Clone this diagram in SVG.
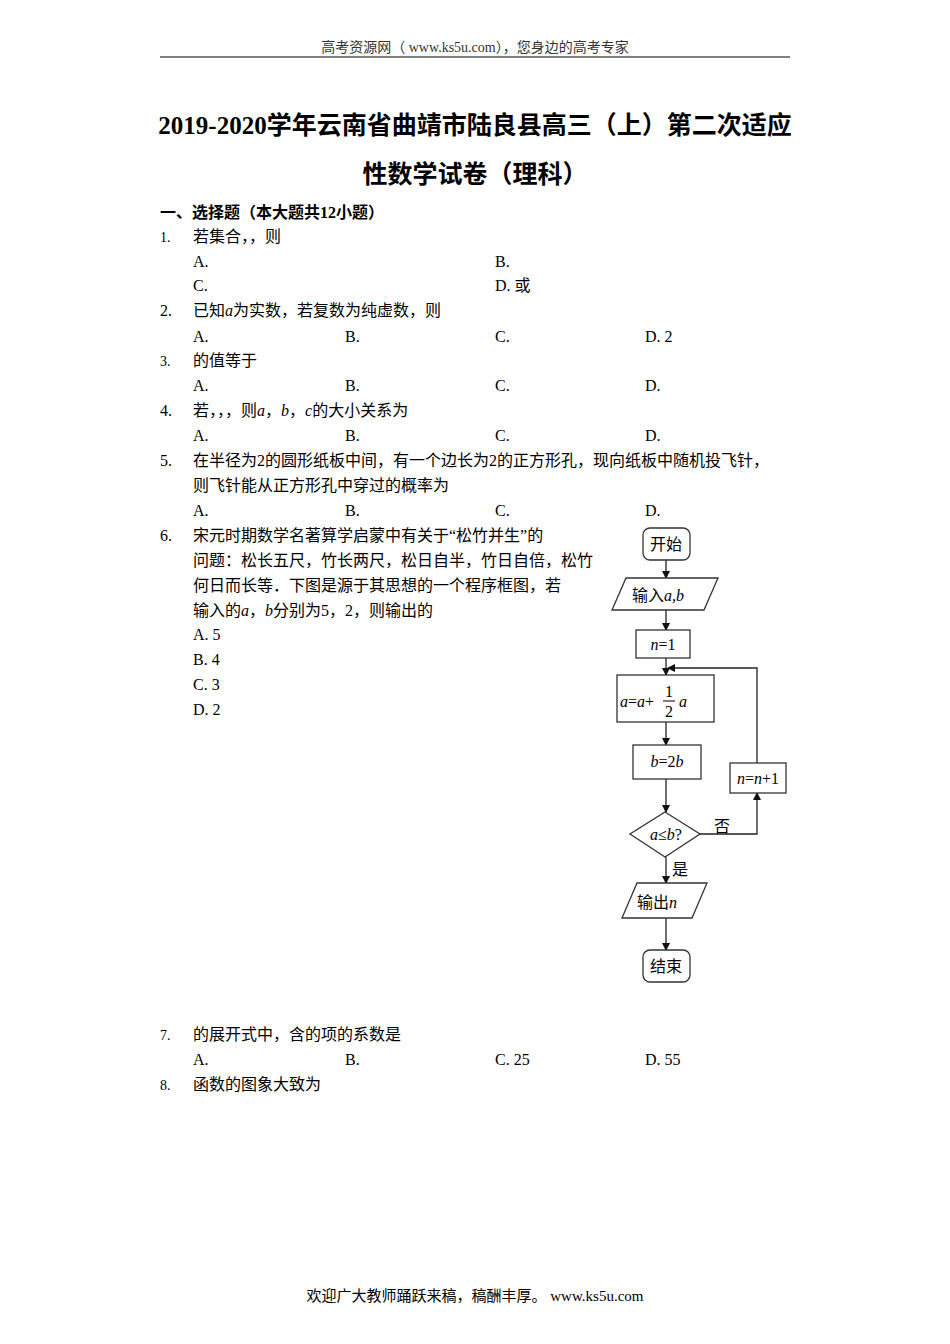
<svg xmlns="http://www.w3.org/2000/svg" width="950" height="1344" viewBox="0 0 950 1344">
<style>
text{font-family:"Liberation Serif","Noto Sans CJK SC",serif;font-size:16px;fill:#000}
.h{font-size:14px;fill:#333}
.t{font-size:25px;font-weight:bold}
.n{font-size:14px}
.fc{font-family:"Noto Sans CJK SC","Liberation Sans",sans-serif;font-size:16px}
.s{fill:#fff;stroke:#333;stroke-width:1.3}
.c{fill:none;stroke:#222;stroke-width:1.3}
</style>
<defs><marker id="a" markerWidth="8" markerHeight="8" refX="7" refY="4" orient="auto" markerUnits="userSpaceOnUse"><path d="M0,0L8,4L0,8z" fill="#111"/></marker></defs>
<rect width="950" height="1344" fill="#fff"/>
<text class="h" x="475" y="52" text-anchor="middle">高考资源网（ www.ks5u.com），您身边的高考专家</text>
<line x1="160" y1="57" x2="790" y2="57" stroke="#000"/>
<text class="t" x="475" y="134" text-anchor="middle">2019-2020学年云南省曲靖市陆良县高三（上）第二次适应</text>
<text class="t" x="475" y="183" text-anchor="middle">性数学试卷（理科）</text>
<text x="160" y="218" font-weight="bold">一、选择题（本大题共12小题）</text>
<text class="n" x="160" y="242">1.</text><text x="193" y="242">若集合，，则</text>
<text x="193" y="267">A.</text><text x="495" y="267">B.</text>
<text x="193" y="291">C.</text><text x="495" y="291">D. 或</text>
<text x="160" y="316">2.</text><text x="193" y="316">已知<tspan font-style="italic">a</tspan>为实数，若复数为纯虚数，则</text>
<text x="193" y="342">A.</text><text x="345" y="342">B.</text><text x="495" y="342">C.</text><text x="645" y="342">D. 2</text>
<text class="n" x="160" y="366">3.</text><text x="193" y="366">的值等于</text>
<text x="193" y="391">A.</text><text x="345" y="391">B.</text><text x="495" y="391">C.</text><text x="645" y="391">D.</text>
<text x="160" y="416">4.</text><text x="193" y="416">若，，，则<tspan font-style="italic">a</tspan>，<tspan font-style="italic">b</tspan>，<tspan font-style="italic">c</tspan>的大小关系为</text>
<text x="193" y="441">A.</text><text x="345" y="441">B.</text><text x="495" y="441">C.</text><text x="645" y="441">D.</text>
<text x="160" y="466">5.</text><text x="193" y="466">在半径为2的圆形纸板中间，有一个边长为2的正方形孔，现向纸板中随机投飞针，</text>
<text x="193" y="491">则飞针能从正方形孔中穿过的概率为</text>
<text x="193" y="516">A.</text><text x="345" y="516">B.</text><text x="495" y="516">C.</text><text x="645" y="516">D.</text>
<text x="160" y="541">6.</text><text x="193" y="541">宋元时期数学名著算学启蒙中有关于“松竹并生”的</text>
<text x="193" y="566">问题：松长五尺，竹长两尺，松日自半，竹日自倍，松竹</text>
<text x="193" y="591">何日而长等．下图是源于其思想的一个程序框图，若</text>
<text x="193" y="616">输入的<tspan font-style="italic">a</tspan>，<tspan font-style="italic">b</tspan>分别为5，2，则输出的</text>
<text x="193" y="640">A. 5</text>
<text x="193" y="665">B. 4</text>
<text x="193" y="690">C. 3</text>
<text x="193" y="715">D. 2</text>
<text class="n" x="160" y="1040">7.</text><text x="193" y="1040">的展开式中，含的项的系数是</text>
<text x="193" y="1065">A.</text><text x="345" y="1065">B.</text><text x="495" y="1065">C. 25</text><text x="645" y="1065">D. 55</text>
<text class="n" x="160" y="1090">8.</text><text x="193" y="1090">函数的图象大致为</text>
<text class="h" x="475" y="1301" text-anchor="middle" style="font-size:15px;fill:#000">欢迎广大教师踊跃来稿，稿酬丰厚。 www.ks5u.com</text>

<g id="connectors">
<line class="c" x1="666" y1="560" x2="666" y2="578" marker-end="url(#a)"/>
<line class="c" x1="666" y1="610" x2="666" y2="630" marker-end="url(#a)"/>
<line class="c" x1="666" y1="658" x2="666" y2="675" marker-end="url(#a)"/>
<line class="c" x1="666" y1="722" x2="666" y2="745" marker-end="url(#a)"/>
<line class="c" x1="666" y1="779" x2="666" y2="812" marker-end="url(#a)"/>
<line class="c" x1="666" y1="857" x2="666" y2="883" marker-end="url(#a)"/>
<line class="c" x1="666" y1="918" x2="666" y2="950" marker-end="url(#a)"/>
<polyline class="c" points="700,834 757,834 757,793" marker-end="url(#a)"/>
<polyline class="c" points="757,763 757,668 668,668" marker-end="url(#a)"/>
<text class="fc" x="714" y="832">否</text>
<text class="fc" x="672" y="875">是</text>
</g>
<g id="start"><rect class="s" x="643" y="528" width="47" height="32" rx="7"/><text class="fc" x="666" y="550" text-anchor="middle">开始</text></g>
<g id="input"><polygon class="s" points="626,578 718,578 704,610 612,610"/><text class="fc" x="632" y="601">输入<tspan font-family="Liberation Serif" font-style="italic">a,b</tspan></text></g>
<g id="n1"><rect class="s" x="636" y="630" width="54" height="28"/><text x="663" y="650" text-anchor="middle" font-style="italic">n<tspan font-style="normal">=1</tspan></text></g>
<g id="aupd"><rect class="s" x="617" y="675" width="97" height="47"/><text x="620" y="707" font-style="italic">a<tspan font-style="normal">=</tspan>a<tspan font-style="normal">+</tspan></text><text x="665" y="697" font-size="14">1</text><line x1="663" y1="701" x2="675" y2="701" stroke="#000"/><text x="665" y="717" font-size="14">2</text><text x="679" y="707" font-style="italic">a</text></g>
<g id="bupd"><rect class="s" x="633" y="745" width="68" height="34"/><text x="667" y="767" text-anchor="middle" font-style="italic">b<tspan font-style="normal">=2</tspan>b</text></g>
<g id="inc"><rect class="s" x="730" y="763" width="56" height="30"/><text x="758" y="784" text-anchor="middle" font-style="italic">n<tspan font-style="normal">=</tspan>n<tspan font-style="normal">+1</tspan></text></g>
<g id="cond"><polygon class="s" points="665,812 700,834 665,857 630,834"/><text x="666" y="840" text-anchor="middle" font-style="italic">a<tspan font-style="normal">≤</tspan>b<tspan font-style="normal">?</tspan></text></g>
<g id="output"><polygon class="s" points="637,883 707,883 692,918 622,918"/><text class="fc" x="637" y="908">输出<tspan font-family="Liberation Serif" font-style="italic">n</tspan></text></g>
<g id="end"><rect class="s" x="643" y="950" width="47" height="32" rx="7"/><text class="fc" x="666" y="972" text-anchor="middle">结束</text></g>
</svg>
